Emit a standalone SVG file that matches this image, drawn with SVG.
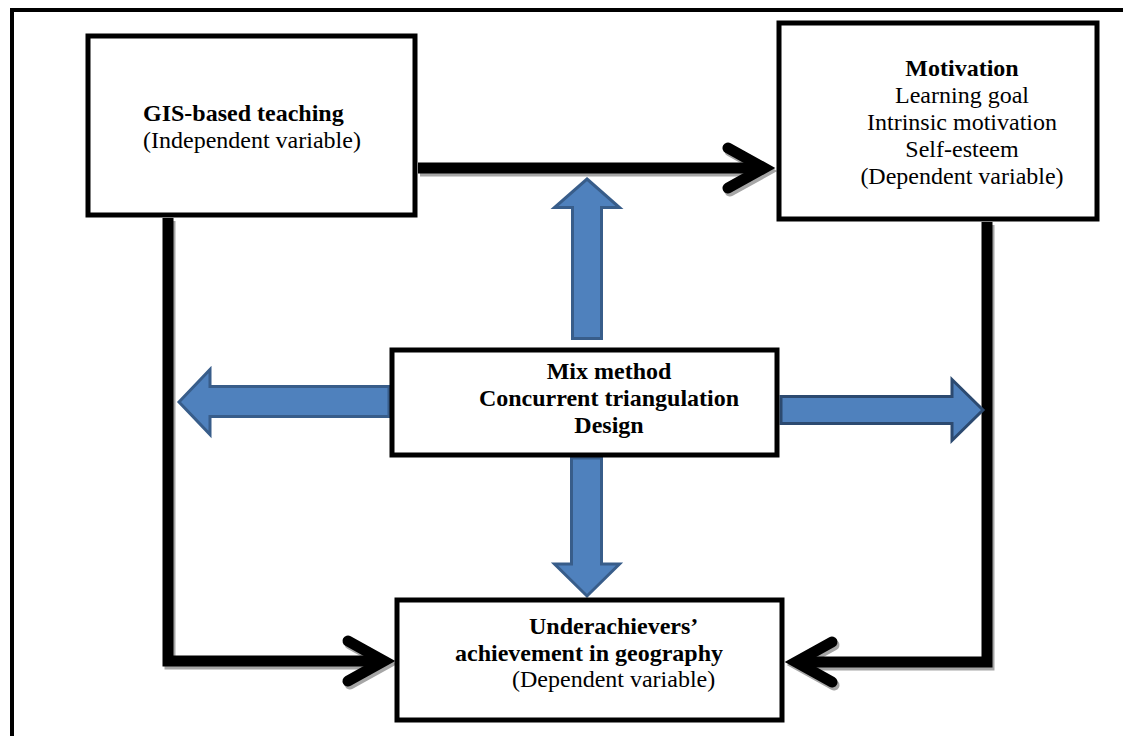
<svg xmlns="http://www.w3.org/2000/svg" width="1123" height="736" viewBox="0 0 1123 736">
<style>
.box{fill:#fff;stroke:#000;stroke-width:5}
.t{font-family:"Liberation Serif","Times New Roman",serif;font-size:24px;fill:#000}
.b{font-weight:bold}
.m{text-anchor:middle}
.con{fill:none;stroke:#000;stroke-width:11;stroke-linejoin:miter}
.sh{fill:none;stroke:#a6a6a6;stroke-width:11;stroke-linejoin:miter}
.blue{fill:#4F81BD;stroke:#385D8A;stroke-width:3;stroke-linejoin:miter}
</style>
<defs>
<marker id="chev" markerUnits="userSpaceOnUse" orient="auto" refX="0" refY="0" markerWidth="60" markerHeight="60" viewBox="-50 -30 60 60" overflow="visible">
<path d="M-36,-20 L0,0 L-36,20" fill="none" stroke="#000" stroke-width="11" stroke-linecap="round" stroke-linejoin="miter"/>
</marker>
<marker id="chevSh" markerUnits="userSpaceOnUse" orient="auto" refX="0" refY="0" markerWidth="60" markerHeight="60" viewBox="-50 -30 60 60" overflow="visible">
<path d="M-36,-20 L0,0 L-36,20" fill="none" stroke="#a6a6a6" stroke-width="11" stroke-linecap="round" stroke-linejoin="miter"/>
</marker>
</defs>
<rect width="1123" height="736" fill="#fff"/>
<path d="M12,736 V10 H1123" fill="none" stroke="#000" stroke-width="4"/>

<g id="connectors">
<g transform="translate(2,3)">
<path class="sh" d="M418,168 H764" marker-end="url(#chevSh)"/>
<path class="sh" d="M168,218 V661 H384" marker-end="url(#chevSh)"/>
<path class="sh" d="M987,222 V662 H796" marker-end="url(#chevSh)"/>
</g>
<path class="con" d="M418,168 H764" marker-end="url(#chev)"/>
<path class="con" d="M168,218 V661 H384" marker-end="url(#chev)"/>
<path class="con" d="M987,222 V662 H796" marker-end="url(#chev)"/>
<polygon class="blue" points="587,179 619.5,207.5 601.5,207.5 601.5,338.5 572.5,338.5 572.5,207.5 554.5,207.5"/>
<polygon class="blue" points="571.5,458 601.5,458 601.5,564 619.5,564 587,596 554.5,564 571.5,564"/>
<polygon class="blue" points="179,402 210,369.5 210,386.5 389,386.5 389,416.5 210,416.5 210,434.5"/>
<polygon class="blue" style="stroke:#2c4a70" points="781,396.5 952,396.5 952,379.5 983,410 952,440.5 952,423.5 781,423.5"/>
</g>

<g id="gis">
<rect class="box" x="88" y="36" width="327" height="179"/>
<text class="t b" x="143" y="121">GIS-based teaching</text>
<text class="t" x="143" y="148">(Independent variable)</text>
</g>

<g id="motivation">
<rect class="box" x="779" y="23" width="318" height="196"/>
<text class="t b m" x="962" y="76">Motivation</text>
<text class="t m" x="962" y="103">Learning goal</text>
<text class="t m" x="962" y="130">Intrinsic motivation</text>
<text class="t m" x="962" y="157">Self-esteem</text>
<text class="t m" x="962" y="184">(Dependent variable)</text>
</g>

<g id="mix">
<rect class="box" x="392" y="350" width="385" height="105"/>
<text class="t b m" x="609" y="379">Mix method</text>
<text class="t b m" x="609" y="406">Concurrent triangulation</text>
<text class="t b m" x="609" y="433">Design</text>
</g>

<g id="under">
<rect class="box" x="397" y="600" width="385" height="120"/>
<text class="t b" x="529" y="634">Underachievers’</text>
<text class="t b" x="455" y="661">achievement in geography</text>
<text class="t" x="512" y="687">(Dependent variable)</text>
</g>
</svg>
